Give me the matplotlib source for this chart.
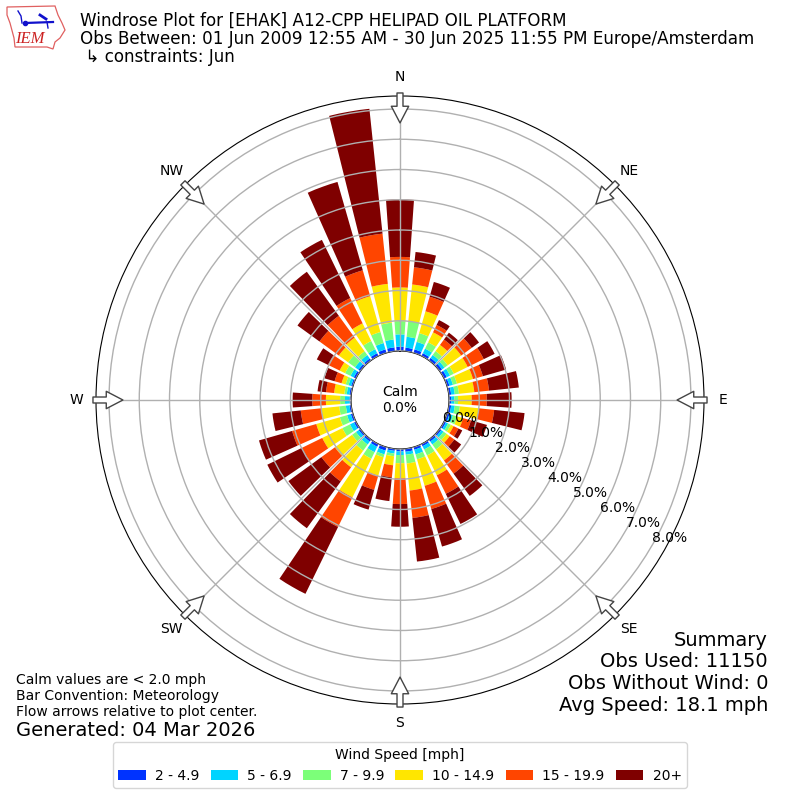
import numpy as np
import matplotlib
matplotlib.use("Agg")
import matplotlib.pyplot as plt
from matplotlib.patches import Rectangle, Polygon

directions = np.arange(0, 360, 10)
bin_labels = ["2 - 4.9", "5 - 6.9", "7 - 9.9", "10 - 14.9", "15 - 19.9", "20+"]
bin_colors = ["#0033ff", "#00d4ff", "#7cff79", "#ffe600", "#ff4500", "#7f0000"]
# cumulative percent at the top of each speed bin, by direction (0, 10, ... 350)
top_2_49 = [.14,.12,.12,.10,.10,.10,.10,.08,.08,.07,.08,.08,.07,.07,.08,.08,.09,.10,.08,.07,.12,.10,.08,.07,.07,.07,.06,.05,.06,.06,.08,.08,.08,.10,.12,.13]
top_5_69 = [.55,.48,.38,.27,.22,.20,.22,.20,.20,.18,.20,.20,.15,.16,.20,.20,.25,.20,.20,.16,.25,.30,.20,.18,.22,.20,.18,.20,.15,.15,.20,.22,.22,.25,.34,.39]
top_7_99 = [.99,1.00,.68,.50,.38,.33,.36,.34,.34,.30,.37,.35,.25,.28,.40,.42,.42,.49,.47,.25,.35,.54,.45,.34,.50,.45,.40,.36,.23,.25,.40,.50,.37,.55,.72,.95]
top_10_149 = [2.10,2.22,1.43,.87,.63,.88,.87,.89,.85,.75,1.00,.55,.35,.41,.85,1.15,1.33,1.39,.97,.55,.98,1.96,1.13,1.04,1.24,1.26,1.00,.83,.57,.39,.60,.88,.93,1.20,1.95,2.24]
top_15_199 = [3.11,2.79,1.93,1.14,.85,1.31,1.46,1.23,1.34,1.25,1.51,.82,.53,.60,1.39,1.83,2.13,2.30,1.82,.95,1.47,3.05,1.71,1.59,1.98,2.09,1.68,1.28,.84,.63,1.03,1.67,1.82,2.13,2.84,3.91]
top_20up = [5.01,3.30,2.44,1.32,1.13,1.61,1.86,2.03,2.33,2.07,2.52,1.37,.67,.88,2.30,2.94,3.42,3.75,2.57,1.74,2.15,5.51,3.62,2.94,3.26,3.23,2.62,1.93,1.12,.98,1.44,2.57,3.62,4.27,5.88,8.06]
bin_tops = [top_2_49, top_5_69, top_7_99, top_10_149, top_15_199, top_20up]

title_lines = ["Windrose Plot for [EHAK] A12-CPP HELIPAD OIL PLATFORM",
               "Obs Between: 01 Jun 2009 12:55 AM - 30 Jun 2025 11:55 PM Europe/Amsterdam",
               " \u21b3 constraints: Jun"]
summary_lines = ["Summary", "Obs Used: 11150", "Obs Without Wind: 0", "Avg Speed: 18.1 mph"]
note_lines = ["Calm values are < 2.0 mph", "Bar Convention: Meteorology", "Flow arrows relative to plot center."]
generated = "Generated: 04 Mar 2026"
compass = ["N", "NE", "E", "SE", "S", "SW", "W", "NW"]
rings = np.arange(0, 9)

fig = plt.figure(figsize=(8, 8), dpi=100)
ax = fig.add_axes([0.12, 0.12, 0.76, 0.76], projection="polar")
ax.set_theta_zero_location("N")
ax.set_theta_direction(-1)
ax.set_rorigin(-1.62)
ax.set_rlim(0, 8.43)

prev = np.zeros(len(directions))
for tops, label, color in zip(bin_tops, bin_labels, bin_colors):
    tops = np.array(tops)
    ax.bar(np.deg2rad(directions), tops - prev, width=np.deg2rad(8), bottom=prev,
           color=color, linewidth=0, label=label)
    prev = tops

ax.set_axisbelow(False)
ax.set_rticks(rings)
ax.set_yticklabels([f"{v:.1f}%" for v in rings], fontsize=10)
ax.set_rlabel_position(120)
ax.set_xticks(np.deg2rad(np.arange(0, 360, 45)))
ax.set_xticklabels(compass, fontsize=10)
ax.tick_params(axis="x", pad=3.5)
ax.grid(True, color="#b0b0b0", linewidth=1)

# inward-pointing flow arrows on the rim
for ang in np.arange(0, 360, 45):
    t = np.deg2rad(ang)
    ax.annotate("", xy=(t, 7.54), xytext=(t, 8.53), xycoords="data", textcoords="data",
                arrowprops=dict(facecolor="white", edgecolor="#444444", width=4.3, headwidth=12.5,
                                headlength=12, linewidth=1, shrink=0), annotation_clip=False, zorder=10)

ax.text(0.5, 0.5, "Calm\n0.0%", transform=ax.transAxes, ha="center", va="center", fontsize=10)

for i, line in enumerate(title_lines):
    fig.text(80 / 800, 1 - (20.5 + 18 * i) / 800, line, fontsize=12.03, va="center", ha="left")
for i, line in enumerate(summary_lines):
    fig.text(768 / 800, 1 - (640 + 21.7 * i) / 800, line, fontsize=14, va="center", ha="right")
for i, line in enumerate(note_lines):
    fig.text(16 / 800, 1 - (680 + 16 * i) / 800, line, fontsize=10, va="center", ha="left")
fig.text(16 / 800, 1 - 730 / 800, generated, fontsize=14, va="center", ha="left")

handles = [Rectangle((0, 0), 1, 1, color=c, linewidth=0) for c in bin_colors]
fig.legend(handles, bin_labels, title="Wind Speed [mph]", ncol=6, loc="lower center",
           bbox_to_anchor=(0.5, 0.0062), fontsize=10, title_fontsize=10,
           columnspacing=0.8, handletextpad=0.65)

# logo
logo = fig.add_axes([0, 1 - 70 / 800, 70 / 800, 70 / 800])
logo.set_xlim(0, 70); logo.set_ylim(70, 0); logo.axis("off")
outline = np.array([(7, 7), (55, 6), (58, 15), (62, 23), (65, 30), (60, 38), (55, 42), (53, 49), (47, 47), (15, 47), (14, 38), (10, 23), (7, 15)])
logo.add_patch(Polygon(outline, closed=True, fill=False, edgecolor="#e06060", linewidth=0.9))
logo.plot([25, 53], [23, 22], color="#1111cc", linewidth=1.6)
logo.plot([18, 21, 22], [11, 16, 23], color="#1111cc", linewidth=1)
logo.plot([40, 46], [15, 19], color="#1111cc", linewidth=2)
logo.plot([47, 48], [22, 28], color="#1111cc", linewidth=1)
logo.plot([25], [23], "o", color="#1111cc", markersize=3)
logo.text(30, 39, "IEM", color="#cc2222", fontsize=12, family="Liberation Serif", style="italic", ha="center", va="center")

fig.savefig("out.png", dpi=100)
